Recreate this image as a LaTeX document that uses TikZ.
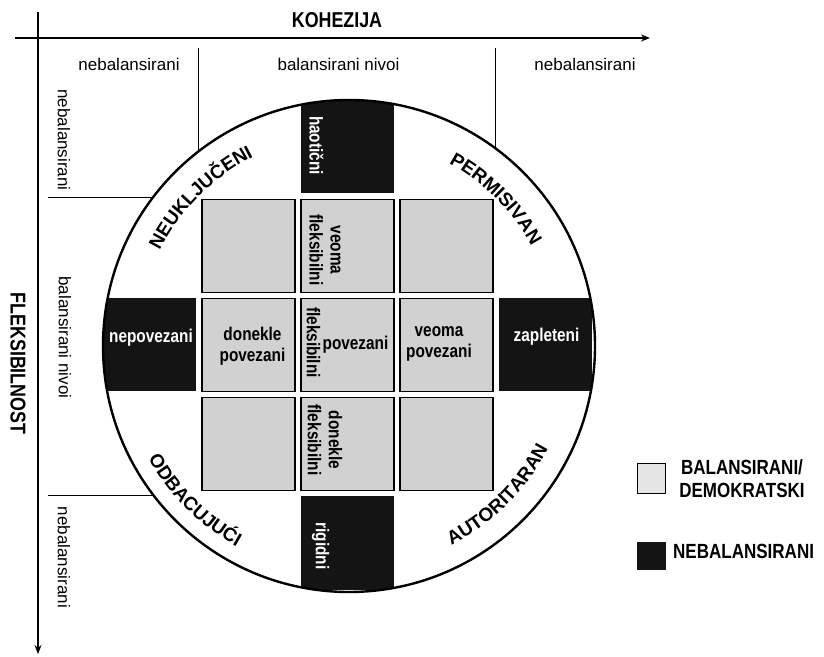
\documentclass[tikz,border=0pt]{standalone}
\usepackage{fontspec}
\setmainfont{Liberation Sans}
\newfontfamily\narrowfont[FakeStretch=0.83]{Liberation Sans}
\usetikzlibrary{arrows.meta,calc,decorations.text}
\newcommand{\arcfont}{\bfseries\fontsize{19}{22}\selectfont}
\tikzset{
  axis/.style={line width=1.2pt, -{Stealth[length=9pt,width=7pt]}},
  divider/.style={line width=0.9pt},
  lightcell/.style={draw, line width=1.2pt, fill=black!18, minimum size=93pt, inner sep=0pt},
  darkcell/.style={fill=black!92, minimum size=93pt, inner sep=0pt},
  celltext/.style={font=\narrowfont\bfseries\fontsize{18.5}{21}\selectfont, align=center, inner sep=0pt},
  whitetext/.style={celltext, text=white},
  header/.style={font=\fontsize{17}{20}\selectfont, inner sep=0pt},
  title/.style={font=\narrowfont\bfseries\fontsize{21.5}{25}\selectfont, inner sep=0pt, align=center},
  legendtext/.style={font=\narrowfont\bfseries\fontsize{20.5}{23}\selectfont, inner sep=0pt, align=center},
  arclabel/.style={decorate, decoration={text along path, text align=center, text={|\arcfont|#1}}}
}

\begin{document}
\begin{tikzpicture}[x=1pt,y=1pt]
    \useasboundingbox (0,0) rectangle (824,656);
    \coordinate (O) at (349,310);

    % osi
    \coordinate (hx0) at (15,618);
    \coordinate (hx1) at (650,618);
    \coordinate (vy0) at (38,644);
    \coordinate (vy1) at (38,2);
    \draw[axis] (hx0) -- (hx1);
    \draw[axis] (vy0) -- (vy1);
    \node[title] (kohezija) at (337,635.5) {KOHEZIJA};
    \node[title, rotate=-90] (fleksibilnost) at (18,292.5) {FLEKSIBILNOST};

    % nivoi
    \node[header] (colL) at (129,592) {nebalansirani};
    \node[header] (colM) at (338.5,592) {balansirani nivoi};
    \node[header] (colR) at (585,592) {nebalansirani};
    \node[header, rotate=-90] (rowT) at (64,516) {nebalansirani};
    \node[header, rotate=-90] (rowM) at (65,318.5) {balansirani nivoi};
    \node[header, rotate=-90] (rowB) at (64,98.5) {nebalansirani};
    \draw[divider] (198,608) -- (198,504);
    \draw[divider] (495,608) -- (495,508);
    \draw[divider] (48,459) -- (153,459);
    \draw[divider] (48,161) -- (153,161);

    % balansirani
    \foreach \i in {-1,0,1}
        \foreach \j in {-1,0,1}
            \node[lightcell] (cell\i\j) at (347.5+99*\i, 311-99*\j) {};

    % nebalansirani
    \begin{scope}
        \clip (O) circle[radius=246];
        \node[darkcell] (dtop) at (347.5,509) {};
        \node[darkcell] (dleft) at (149.5,311) {};
        \node[darkcell] (dright) at (545.5,311) {};
        \node[darkcell] (dbottom) at (347.5,113) {};
    \end{scope}
    \draw[line width=2.4pt] (O) circle[radius=246];

    \node[whitetext, rotate=-90] (haoticni) at (316.5,510.5) {haotični};
    \node[whitetext] (nepovezani) at (151,318) {nepovezani};
    \node[whitetext] (zapleteni) at (546.5,319) {zapleteni};
    \node[whitetext, rotate=-90] (rigidni) at (320.7,110) {rigidni};
    \node[celltext, rotate=-90] (veomafleks) at (325,406) {veoma\\fleksibilni};
    \node[celltext] (doneklepov) at (252.5,310) {donekle\\povezani};
    \node[celltext, rotate=-90] (fleks) at (313.5,313.5) {fleksibilni};
    \node[celltext] (povezani) at (355.5,311) {povezani};
    \node[celltext] (veomapov) at (439,312) {veoma\\povezani};
    \node[celltext, rotate=-90] (doneklefleks) at (325,216) {donekle\\fleksibilni};

    % tipovi
    \path[arclabel=NEUKLJUČENI] ($(O)+(160:212)$) arc[start angle=160, end angle=110, radius=212];
    \path[arclabel=PERMISIVAN] ($(O)+(70:208)$) arc[start angle=70, end angle=20, radius=208];
    \path[arclabel=ODBACUJUĆI] ($(O)+(200:230)$) arc[start angle=200, end angle=250, radius=230];
    \path[arclabel=AUTORITARAN] ($(O)+(290:224)$) arc[start angle=290, end angle=340, radius=224];

    % legenda
    \node[lightcell, minimum width=28pt, minimum height=30pt, line width=0.8pt, fill=black!10] (legbal) at (651,178) {};
    \node[darkcell, minimum width=29pt, minimum height=28pt] (legneb) at (651.5,100) {};
    \node[legendtext] (legbaltext) at (742,177) {BALANSIRANI/\\DEMOKRATSKI};
    \node[legendtext, anchor=west] (legnebtext) at (673,105) {NEBALANSIRANI};
\end{tikzpicture}
\end{document}
